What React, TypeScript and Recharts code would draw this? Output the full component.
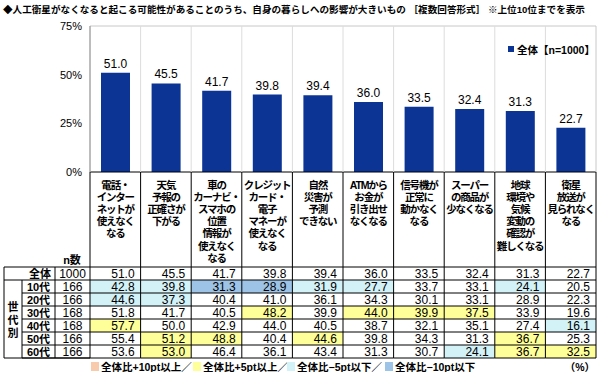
import { Bar, BarChart, LabelList, ReferenceLine, XAxis, YAxis } from 'recharts';

// 項目（上位10位）
const categories = [
  '電話・インターネットが使えなくなる',
  '天気予報の正確さが下がる',
  '車のカーナビ・スマホの位置情報が使えなくなる',
  'クレジットカード・電子マネーが使えなくなる',
  '自然災害が予測できない',
  'ATMからお金が引き出せなくなる',
  '信号機が正常に動かなくなる',
  'スーパーの商品が少なくなる',
  '地球環境や気候変動の確認が難しくなる',
  '衛星放送が見られなくなる',
];
const categoryLines = [
  ['電話・', 'インター', 'ネットが', '使えなく', 'なる'],
  ['天気', '予報の', '正確さが', '下がる'],
  ['車の', 'カーナビ・', 'スマホの', '位置', '情報が', '使えなく', 'なる'],
  ['クレジット', 'カード・', '電子', 'マネーが', '使えなく', 'なる'],
  ['自然', '災害が', '予測', 'できない'],
  ['ATMから', 'お金が', '引き出せ', 'なくなる'],
  ['信号機が', '正常に', '動かなく', 'なる'],
  ['スーパー', 'の商品が', '少なくなる'],
  ['地球', '環境や', '気候', '変動の', '確認が', '難しくなる'],
  ['衛星', '放送が', '見られなく', 'なる'],
];

const overall = [51.0, 45.5, 41.7, 39.8, 39.4, 36.0, 33.5, 32.4, 31.3, 22.7];
const overallN = 1000;

const ageLabels = ['10代', '20代', '30代', '40代', '50代', '60代'];
const ageN = [166, 166, 168, 168, 166, 166];
const age10s = [42.8, 39.8, 31.3, 28.9, 31.9, 27.7, 33.7, 33.1, 24.1, 20.5];
const age20s = [44.6, 37.3, 40.4, 41.0, 36.1, 34.3, 30.1, 33.1, 28.9, 22.3];
const age30s = [51.8, 41.7, 40.5, 48.2, 39.9, 44.0, 39.9, 37.5, 33.9, 19.6];
const age40s = [57.7, 50.0, 42.9, 44.0, 40.5, 38.7, 32.1, 35.1, 27.4, 16.1];
const age50s = [55.4, 51.2, 48.8, 40.4, 44.6, 39.8, 34.3, 31.3, 36.7, 25.3];
const age60s = [53.6, 53.0, 46.4, 36.1, 43.4, 31.3, 30.7, 24.1, 36.7, 32.5];
const ageValues = [age10s, age20s, age30s, age40s, age50s, age60s];

const yTicks = [0, 25, 50, 75];

const legendItems = ['全体比+10pt以上／', '全体比+5pt以上／', '全体比−5pt以下／', '全体比−10pt以下'];

// layout
const W = 600;
const H = 372;
const PLOT_LEFT = 90;
const PLOT_RIGHT = 596;
const PLOT_TOP = 26;
const PLOT_BOTTOM = 172;
const HEADER_BOTTOM = 267;
const ROW_H = 13;
const TABLE_BOTTOM = HEADER_BOTTOM + ROW_H * 7;
const BAND = (PLOT_RIGHT - PLOT_LEFT) / categories.length;

const FONT = "'Liberation Sans', 'Noto Sans CJK JP', sans-serif";
const BAR_COLOR = '#0b3494';
const HEAT = { up10: '#f8cbad', up5: '#ffff99', down5: '#d3f2f8', down10: '#9dc3e6' };
const legendColors = [HEAT.up10, HEAT.up5, HEAT.down5, HEAT.down10];

const cellColor = (v: number, base: number) => {
  const d = v - base;
  if (d >= 10) return HEAT.up10;
  if (d >= 5) return HEAT.up5;
  if (d <= -10) return HEAT.down10;
  if (d <= -5) return HEAT.down5;
  return null;
};

const CategoryTick = (props: any) => {
  const { x, index } = props;
  const left = x - BAND / 2;
  const right = x + BAND / 2;
  const isLast = index === categories.length - 1;
  const rows = [overall[index], ...ageValues.map(a => a[index])];

  return (
    <g>
      {/* 背景色 */}
      {rows.map((v, r) => {
        if (r === 0) return null;
        const c = cellColor(v, overall[index]);
        if (!c) return null;
        return (
          <rect key={`bg${r}`} x={left} y={HEADER_BOTTOM + r * ROW_H} width={BAND} height={ROW_H} fill={c} />
        );
      })}
      {/* 罫線 */}
      <line x1={left} x2={left} y1={PLOT_TOP} y2={PLOT_BOTTOM} stroke={index === 0 ? '#a6a6a6' : '#dcdcdc'} />
      {isLast && <line x1={right} x2={right} y1={PLOT_TOP} y2={PLOT_BOTTOM} stroke="#c8c8c8" />}
      <line x1={left} x2={left} y1={PLOT_BOTTOM} y2={TABLE_BOTTOM} stroke="#000" />
      {isLast && <line x1={right} x2={right} y1={PLOT_BOTTOM} y2={TABLE_BOTTOM} stroke="#000" />}
      {rows.map((_, r) => (
        <line key={`h${r}`} x1={left} x2={right} y1={HEADER_BOTTOM + r * ROW_H} y2={HEADER_BOTTOM + r * ROW_H} stroke="#000" />
      ))}
      <line x1={left} x2={right} y1={TABLE_BOTTOM} y2={TABLE_BOTTOM} stroke="#000" />
      {/* 項目名 */}
      {categoryLines[index].map((t, i) => (
        <text
          key={`t${i}`}
          x={x}
          y={185 + i * 12.1}
          textAnchor="middle"
          dominantBaseline="central"
          fontSize={10.5}
          fontWeight="bold"
          letterSpacing={-1.2}
          fontFamily={FONT}
          fill="#000"
        >
          {t}
        </text>
      ))}
      {/* 数値 */}
      {rows.map((v, r) => (
        <text
          key={`v${r}`}
          x={right - 6}
          y={HEADER_BOTTOM + r * ROW_H + ROW_H / 2 + 0.5}
          textAnchor="end"
          dominantBaseline="central"
          fontSize={12}
          fontFamily={FONT}
          fill="#000"
        >
          {v.toFixed(1)}
        </text>
      ))}
    </g>
  );
};

const Overlay = () => {
  const rowY = (r: number) => HEADER_BOTTOM + r * ROW_H;
  const legendX = [91, 193, 287, 385];
  return (
    <svg
      width={W}
      height={H}
      style={{ position: 'absolute', left: 0, top: 0, pointerEvents: 'none' }}
      fontFamily={FONT}
    >
      <text x={3} y={9.5} dominantBaseline="central" fontSize={9.6} fontWeight="bold" fill="#000">
        ◆人工衛星がなくなると起こる可能性があることのうち、自身の暮らしへの影響が大きいもの ［複数回答形式］ ※上位10位までを表示
      </text>

      {/* 凡例 */}
      <rect x={508} y={46} width={6} height={6} fill={BAR_COLOR} />
      <text x={517} y={49.5} dominantBaseline="central" fontSize={10.5} fontWeight="bold" fill="#000">
        全体【n=1000】
      </text>

      {/* 表の左側 */}
      <text x={72} y={260} textAnchor="middle" dominantBaseline="central" fontSize={11} fontWeight="bold" fill="#000">
        n数
      </text>
      <line x1={4} x2={PLOT_LEFT} y1={rowY(0)} y2={rowY(0)} stroke="#000" />
      <line x1={4} x2={PLOT_LEFT} y1={rowY(1)} y2={rowY(1)} stroke="#000" />
      {ageLabels.map((_, i) => (
        <line key={`rl${i}`} x1={22} x2={PLOT_LEFT} y1={rowY(i + 2)} y2={rowY(i + 2)} stroke="#000" />
      ))}
      <line x1={4} x2={PLOT_LEFT} y1={TABLE_BOTTOM} y2={TABLE_BOTTOM} stroke="#000" />
      <line x1={4} x2={4} y1={rowY(0)} y2={TABLE_BOTTOM} stroke="#000" />
      <line x1={22} x2={22} y1={rowY(1)} y2={TABLE_BOTTOM} stroke="#000" />
      <line x1={55} x2={55} y1={rowY(0)} y2={TABLE_BOTTOM} stroke="#000" />

      <text x={40} y={rowY(0) + ROW_H / 2 + 0.5} textAnchor="middle" dominantBaseline="central" fontSize={11} fontWeight="bold" fill="#000">
        全体
      </text>
      <text x={72.5} y={rowY(0) + ROW_H / 2 + 0.5} textAnchor="middle" dominantBaseline="central" fontSize={12} fill="#000">
        {overallN}
      </text>
      {ageLabels.map((a, i) => (
        <g key={`age${i}`}>
          <text x={38.5} y={rowY(i + 1) + ROW_H / 2 + 0.5} textAnchor="middle" dominantBaseline="central" fontSize={11} fontWeight="bold" fill="#000">
            {a}
          </text>
          <text x={72.5} y={rowY(i + 1) + ROW_H / 2 + 0.5} textAnchor="middle" dominantBaseline="central" fontSize={12} fill="#000">
            {ageN[i]}
          </text>
        </g>
      ))}
      {['世', '代', '別'].map((c, i) => (
        <text key={`g${i}`} x={13} y={307 + i * 13} textAnchor="middle" dominantBaseline="central" fontSize={11} fontWeight="bold" fill="#000">
          {c}
        </text>
      ))}

      {/* 色分け凡例 */}
      {legendItems.map((t, i) => (
        <g key={`lg${i}`}>
          <rect x={legendX[i]} y={362} width={8} height={9} fill={legendColors[i]} />
          <text x={legendX[i] + 10} y={366.5} dominantBaseline="central" fontSize={10.5} fontWeight="bold" fill="#000">
            {t}
          </text>
        </g>
      ))}
      <text x={595} y={366.5} textAnchor="end" dominantBaseline="central" fontSize={10.5} fontWeight="bold" fill="#000">
        （%）
      </text>
    </svg>
  );
};

export default function App() {
  const data = categories.map((name, i) => ({ name, value: overall[i] }));
  return (
    <div style={{ position: 'absolute', left: 0, top: 0, width: W, height: H, background: '#fff', fontFamily: FONT }}>
      <BarChart width={W} height={H} data={data} margin={{ top: PLOT_TOP, right: W - PLOT_RIGHT, bottom: 0, left: 0 }}>
        <ReferenceLine y={75} stroke="#c8c8c8" />
        <XAxis
          dataKey="name"
          height={H - PLOT_BOTTOM}
          interval={0}
          tickLine={false}
          axisLine={{ stroke: '#000' }}
          tick={CategoryTick}
        />
        <YAxis
          width={PLOT_LEFT}
          domain={[0, 75]}
          ticks={yTicks}
          interval={0}
          tickFormatter={(v: number) => `${v}%`}
          tickLine={false}
          axisLine={{ stroke: '#a6a6a6' }}
          tick={{ fontSize: 11, fill: '#000', fontFamily: FONT }}
        />
        <Bar dataKey="value" fill={BAR_COLOR} barSize={29} isAnimationActive={false}>
          <LabelList
            dataKey="value"
            position="top"
            formatter={(v: any) => Number(v).toFixed(1)}
            style={{ fontSize: 12, fill: '#000', fontFamily: FONT }}
          />
        </Bar>
      </BarChart>
      <Overlay />
    </div>
  );
}
